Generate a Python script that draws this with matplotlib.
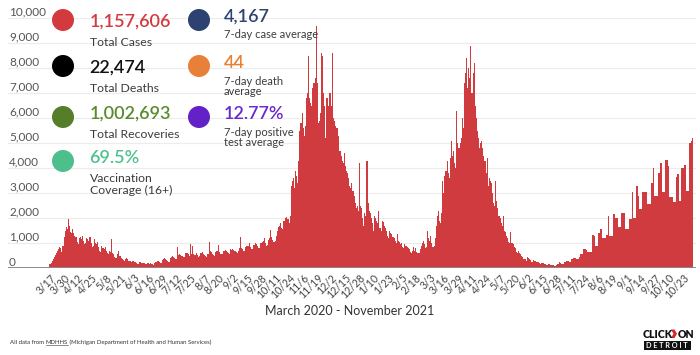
import numpy as np
import matplotlib
matplotlib.use("Agg")
import matplotlib.pyplot as plt
import matplotlib.dates as mdates
from matplotlib.patches import Circle, Rectangle, Polygon

plt.rcParams['font.family'] = ['Lato', 'DejaVu Sans']

# ---------------- data ----------------
start_date = '2020-03-10'

wave1_2020 = [3, 6, 10, 20, 30, 40, 60,
              150, 220, 280, 350, 450, 520, 600,
              700, 780, 850, 820, 650, 900, 1250,
              1500, 1650, 1550, 1950, 1700, 1450, 1400,
              1550, 1400, 1300, 1250, 1050, 950, 1200,
              1250, 1150, 1300, 1100, 950, 1000, 1200,
              1150, 1100, 1250, 1000, 850, 900, 1150,
              1000, 950, 1050, 850, 700, 650, 900,
              800, 750, 850, 700, 600, 550, 700,
              650, 1150, 600, 550, 450, 420, 550,
              700, 500, 480, 420, 350, 330, 300,
              380, 420, 360, 300, 280, 250, 300,
              280, 260, 250, 220, 180, 170, 230,
              240, 220, 210, 190, 160, 150, 200,
              190, 180, 200, 170, 150, 140, 200]

summer_2020 = [250, 280, 300, 260, 220, 210, 330,
               360, 420, 380, 330, 280, 260, 400,
               450, 480, 460, 400, 360, 380, 850,
               520, 560, 540, 480, 430, 450, 600,
               620, 600, 560, 500, 950, 580, 900,
               560, 540, 600, 520, 460, 480, 620,
               600, 630, 580, 540, 480, 460, 580,
               1050, 680, 630, 580, 530, 500, 650,
               680, 700, 930, 660, 580, 560, 680,
               700, 730, 690, 660, 600, 580, 760,
               740, 780, 740, 690, 630, 610, 670,
               790, 1250, 800, 750, 690, 670, 850,
               870, 890, 990, 840, 770, 750, 940,
               940, 990, 970, 890, 810, 790, 990,
               1040, 1090, 1190, 990, 890, 940, 1140,
               1190, 1520, 1240, 1140, 1040, 1090, 1290]

winter_2020 = [1500, 1650, 1700, 1800, 1600, 1550, 1900,
               1900, 2000, 2050, 1950, 1800, 2100, 3300,
               3500, 3600, 3200, 3900, 3700, 3400, 4300,
               5500, 5800, 6200, 5600, 5300, 5700, 6800,
               7000, 8500, 6800, 6600, 6500, 7200, 7400,
               7600, 9700, 7400, 5800, 5900, 6200, 8600,
               8500, 7000, 6500, 5200, 6800, 6500, 7000,
               7000, 6500, 8600, 6000, 5900, 5700, 5600,
               5600, 5300, 4700, 4500, 4300, 4200, 4600,
               4100, 3900, 3800, 3600, 3300, 3200, 3400,
               3100, 2900, 2600, 2400, 2500, 2300, 4200,
               2500, 2400, 2000, 1700, 2200, 2100, 4300,
               2600, 2300, 2200, 2000, 1800, 1500, 2100,
               2000, 1900, 1800, 2300, 1600, 1500, 1900,
               1850, 1700, 1600, 1500, 1300, 1200, 1500,
               1400, 1350, 1250, 1200, 1100, 1000, 1350,
               1100, 1050, 950, 1000, 850, 800, 950,
               900, 850, 800, 750, 650, 600, 700,
               850, 700, 800, 650, 600, 620, 750,
               900, 1000, 1100, 950, 800, 850, 1500]

spring_2021 = [1200, 1100, 1300, 1000, 850, 900, 1200,
               1700, 2100, 2300, 1900, 1800, 2200, 3500,
               3000, 3700, 3900, 4300, 3800, 3600, 4400,
               5100, 4500, 4700, 4200, 4000, 6300, 5000,
               4800, 5000, 5200, 6000, 5600, 7400, 7800,
               8400, 7200, 8000, 7600, 8900, 7000, 7800,
               8200, 6500, 6000, 5500, 5200, 4800, 5000,
               5100, 4800, 4500, 4300, 3800, 4400, 3300,
               3600, 3500, 3400, 3000, 2600, 2500, 3500,
               2700, 2400, 2100, 2000, 1800, 1700, 2100,
               1500, 1450, 1300, 1200, 1050, 1000, 1450,
               1000, 950, 850, 800, 650, 600, 700,
               600, 550, 500, 450, 380, 350, 300,
               450, 420, 380, 320, 260, 250, 330,
               300, 270, 250, 230, 200, 180, 220]

summer_2021 = [200, 190, 170, 150, 130, 120, 160,
               150, 140, 130, 120, 100, 90, 130,
               160, 170, 230, 200, 180, 170, 150,
               250, 280, 300, 280, 260, 250, 350,
               380, 400, 420, 400, 380, 350, 450]

fall_2021 = [550, 560, 560,
             750, 750, 750, 740,
             650, 640, 650, 660,
             1320, 1320, 1300,
             880, 880, 880,
             1390, 1390, 1560, 1560,
             1190, 1190, 1190,
             1320, 1320, 2080,
             1280, 1280, 1280, 1280,
             2150, 2150, 1990, 1990,
             1650, 1650, 1650,
             2210, 2210, 2210, 2210,
             1550, 1550, 1550, 1550,
             1970, 1970, 3040,
             2010, 2010, 2010,
             3280, 3280, 2900,
             2370, 2370, 2370,
             3040, 3040, 3040, 3040,
             2560, 2560, 2560, 2560,
             3390, 3390, 4010,
             2880, 2880, 2880,
             3810, 3810, 4190, 4190,
             3050, 3050, 3050,
             4320, 4320, 4320, 4100,
             2830, 2830, 2830,
             2650, 2650, 2650,
             3650, 3750, 3750,
             2700, 2700,
             4000, 4000, 4110, 4110,
             3090, 3090, 3090,
             4990, 5010, 5100, 5190]

cases = np.array(wave1_2020 + summer_2020 + winter_2020 +
                 spring_2021 + summer_2021 + fall_2021)

y_ticks = [0, 1000, 2000, 3000, 4000, 5000, 6000, 7000, 8000, 9000, 10000]
y_tick_labels = ['0', '1,000', '2,000', '3,000', '4,000', '5,000',
                 '6,000', '7,000', '8,000', '9,000', '10,000']

first_tick = '2020-03-17'
tick_step_days = 13
x_tick_labels = ['3/17', '3/30', '4/12', '4/25', '5/8', '5/21', '6/3', '6/16',
                 '6/29', '7/12', '7/25', '8/7', '8/20', '9/2', '9/15', '9/28',
                 '10/11', '10/24', '11/6', '11/19', '12/2', '12/15', '12/28',
                 '1/10', '1/23', '2/5', '2/18', '3/3', '3/16', '3/29', '4/11',
                 '4/24', '5/7', '5/20', '6/2', '6/15', '6/28', '7/11', '7/24',
                 '8/6', '8/19', '9/1', '9/14', '9/27', '10/10', '10/23']

stats_left = [('1,157,606', ['Total Cases'], '#d33a40', '#d33a40'),
              ('22,474', ['Total Deaths'], '#000000', '#111111'),
              ('1,002,693', ['Total Recoveries'], '#567d29', '#5a8a2b'),
              ('69.5%', ['Vaccination', 'Coverage (16+)'], '#4dbf8c', '#4fc18e')]
stats_right = [('4,167', ['7-day case average'], '#2d4271', '#2d4271'),
               ('44', ['7-day death', 'average'], '#e8803a', '#e9802f'),
               ('12.77%', ['7-day positive', 'test average'], '#6222c8', '#6a28d2')]

# ---------------- figure ----------------
W, H = 700, 355
fig = plt.figure(figsize=(W / 100, H / 100), dpi=100)
fig.patch.set_facecolor('white')

ax = fig.add_axes([8 / W, 1 - 268 / H, (696 - 8) / W, (268 - 18) / H])
dates = mdates.date2num(np.datetime64(start_date) + np.arange(len(cases)))
t0 = mdates.date2num(np.datetime64(first_tick))
ppd = 1.082
ax.set_xlim(t0 - 42 / ppd, t0 + 646 / ppd)
ax.set_ylim(0, 10000)

ax.bar(dates, cases, width=1.0, color='#d03b40', linewidth=0, zorder=2)

for v in y_ticks[1:]:
    ax.axhline(v, color='#ececec', lw=0.8, zorder=1)
ax.axhline(0, color='#8a8a8a', lw=1.4, zorder=3)

ytr = ax.get_yaxis_transform()
for v, lab in zip(y_ticks, y_tick_labels):
    ax.text(1 / 688, v + 100, lab, transform=ytr, ha='left', va='baseline',
            fontsize=8.5, color='#555555', zorder=4)

tick_pos = t0 + tick_step_days * np.arange(len(x_tick_labels))
ax.set_xticks(tick_pos)
ax.set_xticklabels(x_tick_labels, rotation=45, ha='right', va='top',
                   rotation_mode='anchor', fontsize=7.6, color='#444444')
ax.tick_params(axis='x', length=0, pad=3)
ax.set_yticks([])
for s in ax.spines.values():
    s.set_visible(False)

fig.text(350 / W, 1 - 311 / H, 'March 2020 - November 2021', ha='center',
         va='center', fontsize=9, color='#333333')

# ---------------- overlay (pixel coords) ----------------
ov = fig.add_axes([0, 0, 1, 1], zorder=5)
ov.set_xlim(0, W)
ov.set_ylim(H, 0)
ov.axis('off')
ov.patch.set_alpha(0)

left_rows = [(20, 26.5, 46.0), (66, 73.0, 92.5), (117, 119.0, 138.5), (161, 163.0, 182.5)]
right_rows = [(20, 21.7, 37.5), (66, 68.3, 84.8), (117, 119.3, 136.0)]
line_gap = 11.2

for (num, labs, ccol, tcol), (cy, nb, lb) in zip(stats_left, left_rows):
    ov.add_patch(Circle((63, cy), 11, color=ccol, lw=0))
    ov.text(89.5, nb, num, fontsize=13, color=tcol, va='baseline', ha='left',
            fontweight='semibold')
    for k, l in enumerate(labs):
        ov.text(89.5, lb + k * line_gap, l, fontsize=8.8, color='#3c3c3c',
                va='baseline', ha='left')

for (num, labs, ccol, tcol), (cy, nb, lb) in zip(stats_right, right_rows):
    ov.add_patch(Circle((199, cy), 11, color=ccol, lw=0))
    ov.text(224, nb, num, fontsize=13, color=tcol, va='baseline', ha='left',
            fontweight='semibold')
    for k, l in enumerate(labs):
        ov.text(224, lb + k * (line_gap - 0.7), l, fontsize=8.0, color='#3c3c3c',
                va='baseline', ha='left')

# footer
fig.canvas.draw()
renderer = fig.canvas.get_renderer()
parts = ['All data from ', 'MDHHS', ' (Michigan Department of Health and Human Services)']
xcur = 10
for k, p in enumerate(parts):
    t = ov.text(xcur, 344, p, fontsize=4.3, color='#333333', va='baseline', ha='left')
    bb = t.get_window_extent(renderer)
    wpx = bb.width
    if k == 1:
        ov.plot([xcur, xcur + wpx], [345.3, 345.3], color='#333333', lw=0.4)
    xcur += wpx

# logo
ov.text(643, 338, 'CLICK', fontsize=7.6, fontweight='heavy', color='#111111',
        va='baseline', ha='left')
ov.add_patch(Polygon([[671, 329.5], [674.5, 329.5], [677, 333.8], [674.5, 338],
                      [671, 338], [673.5, 333.8]], closed=True, color='#d8262e', lw=0))
ov.text(677.3, 338, 'ON', fontsize=7.6, fontweight='heavy', color='#111111',
        va='baseline', ha='left')
ov.add_patch(Rectangle((643.5, 340.5), 47, 9.5, color='#111111', lw=0))
ov.text(667, 345.4, 'D E T R O I T', fontsize=5.2, fontweight='bold', color='white',
        va='center', ha='center')

fig.savefig('out.png', dpi=100, facecolor='white')
